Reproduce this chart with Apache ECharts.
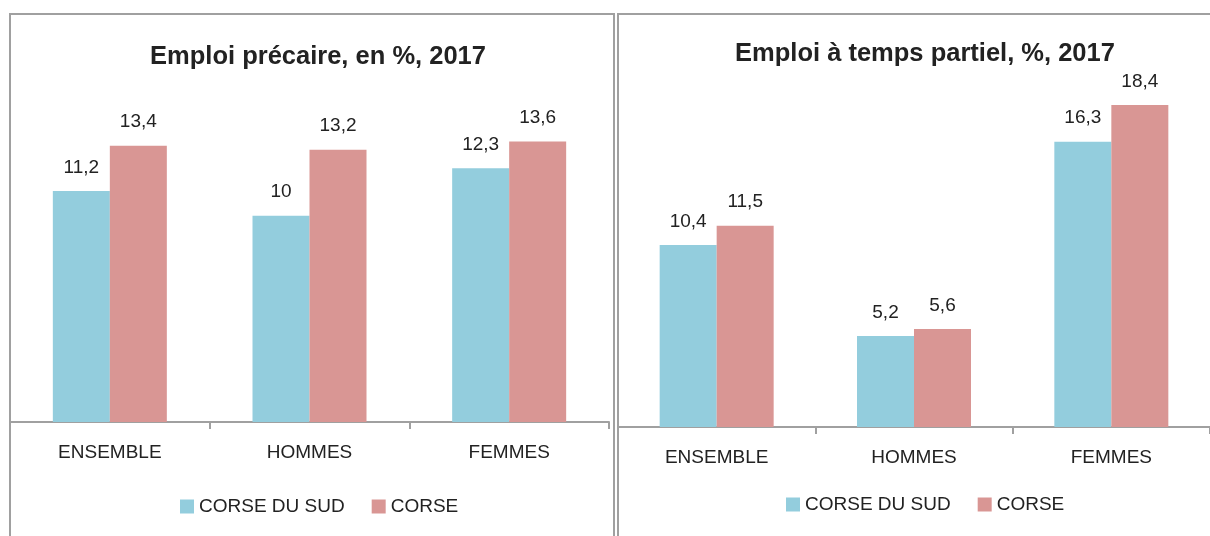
<!DOCTYPE html>
<html>
<head>
<meta charset="utf-8">
<script src="https://cdn.jsdelivr.net/npm/echarts@6/dist/echarts.min.js"></script>
<style>
  html, body { margin: 0; padding: 0; background: #fff; }
  #chart { width: 1210px; height: 536px; }
</style>
</head>
<body>
<div id="chart"></div>
<script>
// données
const categories = ['ENSEMBLE', 'HOMMES', 'FEMMES']
const seriesNames = ['CORSE DU SUD', 'CORSE']
const precaireSud = [11.2, 10, 12.3]
const precaireCorse = [13.4, 13.2, 13.6]
const partielSud = [10.4, 5.2, 16.3]
const partielCorse = [11.5, 5.6, 18.4]

const BLUE = '#93CDDD'
const PINK = '#D99694'
const FONT = '"Liberation Sans", Arial, sans-serif'
const GREY = '#A0A0A0'

const myChart = echarts.init(document.getElementById('chart'))

const fmt = p => String(p.value).replace('.', ',')

function barSeries(name, data, color, idx) {
  return {
    name: name,
    type: 'bar',
    xAxisIndex: idx,
    yAxisIndex: idx,
    data: data,
    barWidth: 57,
    barGap: '0%',
    itemStyle: { color: color },
    label: {
      show: true,
      position: 'top',
      distance: 14,
      formatter: fmt,
      color: '#222',
      fontFamily: FONT,
      fontSize: 19
    }
  }
}

function catAxis(idx) {
  return {
    type: 'category',
    gridIndex: idx,
    data: categories,
    axisLine: { lineStyle: { color: GREY, width: 2 } },
    axisTick: { show: true, length: 7, lineStyle: { color: GREY, width: 2 } },
    axisLabel: { color: '#222', fontFamily: FONT, fontSize: 19, margin: 21 }
  }
}

function valAxis(idx, max) {
  return {
    type: 'value',
    gridIndex: idx,
    min: 0,
    max: max,
    show: false,
    splitLine: { show: false }
  }
}

const titleStyle = { color: '#222', fontFamily: FONT, fontSize: 25.5, fontWeight: 'bold' }
const legendText = { color: '#222', fontFamily: FONT, fontSize: 19 }

const option = {
  animation: false,
  title: [
    { text: 'Emploi précaire, en %, 2017', left: 313, top: 39, textAlign: 'center', textStyle: titleStyle },
    { text: 'Emploi à temps partiel, %, 2017', left: 920, top: 36, textAlign: 'center', textStyle: titleStyle }
  ],
  legend: [
    {
      data: seriesNames, left: 180, top: 497, padding: 0,
      itemWidth: 14, itemHeight: 14, itemGap: 27,
      icon: 'rect', textStyle: legendText
    },
    {
      data: seriesNames, left: 786, top: 495, padding: 0,
      itemWidth: 14, itemHeight: 14, itemGap: 27,
      icon: 'rect', textStyle: legendText
    }
  ],
  grid: [
    { left: 10, right: 601, top: 92, bottom: 114 },
    { left: 618, right: 0, top: 77, bottom: 109 }
  ],
  xAxis: [catAxis(0), catAxis(1)],
  yAxis: [valAxis(0, 16), valAxis(1, 20)],
  graphic: [
    { type: 'rect', shape: { x: 10, y: 14, width: 604, height: 540 }, style: { fill: 'none', stroke: GREY, lineWidth: 2 }, z: 100 },
    { type: 'rect', shape: { x: 618, y: 14, width: 600, height: 540 }, style: { fill: 'none', stroke: GREY, lineWidth: 2 }, z: 100 }
  ],
  series: [
    barSeries(seriesNames[0], precaireSud, BLUE, 0),
    barSeries(seriesNames[1], precaireCorse, PINK, 0),
    barSeries(seriesNames[0], partielSud, BLUE, 1),
    barSeries(seriesNames[1], partielCorse, PINK, 1)
  ]
}

myChart.setOption(option)
</script>
</body>
</html>
